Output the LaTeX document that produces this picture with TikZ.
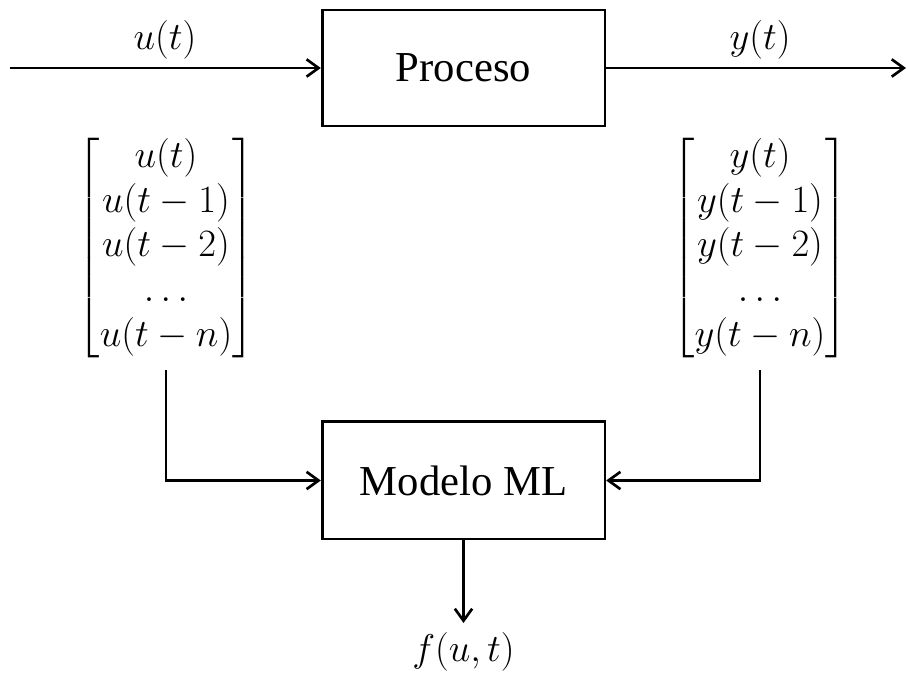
\RequirePackage{fix-cm}
\documentclass[tikz,border=0pt]{standalone}
\usepackage{amsmath}
\usepackage{fontspec}
\setmainfont{Liberation Serif}
\usetikzlibrary{arrows.meta}

\tikzset{
  blockbox/.style={draw, line width=2pt, rectangle, inner sep=0pt,
    font=\fontsize{32}{38}\selectfont},
  sig/.style={line width=2pt, -{Straight Barb[length=9pt,width=13pt,line width=2pt]}},
  mathlbl/.style={inner sep=0pt, font=\fontsize{29}{30}\selectfont},
  vecnode/.style={mathlbl, execute at begin node={\def\arraystretch{1.12}}},
}

\begin{document}
\begin{tikzpicture}[x=0.75pt, y=-0.75pt]
  \useasboundingbox (0,0) rectangle (908,677);

  % blocks
  \node[blockbox, minimum width=212pt, minimum height=87pt] (proc) at (463.5,68) {Proceso};
  \node[blockbox, minimum width=212pt, minimum height=88pt] (model) at (463.5,480.5) {Modelo ML};

  % signal ends
  \coordinate (uin) at (10,68);
  \coordinate (yout) at (906,68);

  % signal labels
  \node[mathlbl, anchor=base] (ulbl) at (165,50) {$u(t)$};
  \node[mathlbl, anchor=base] (ylbl) at (760,50) {$y(t)$};

  % regressor vectors
  \node[vecnode] (umat) at (166,248) {%
    $\begin{bmatrix} u(t)\\ u(t-1)\\ u(t-2)\\ \ldots\\ u(t-n)\end{bmatrix}$};
  \node[vecnode] (ymat) at (760,248) {%
    $\begin{bmatrix} y(t)\\ y(t-1)\\ y(t-2)\\ \ldots\\ y(t-n)\end{bmatrix}$};

  \coordinate (ufeed) at (166,370);
  \coordinate (yfeed) at (760,370);

  % output
  \node[mathlbl] (fout) at (463.5,652) {$f(u,t)$};
  \coordinate (fend) at (463.5,623);

  % connectors
  \draw[sig] (uin) -- (proc.west);
  \draw[sig] (proc.east) -- (yout);
  \draw[sig] (ufeed) |- (model.west);
  \draw[sig] (yfeed) |- (model.east);
  \draw[sig] (model.south) -- (fend);
\end{tikzpicture}
\end{document}
